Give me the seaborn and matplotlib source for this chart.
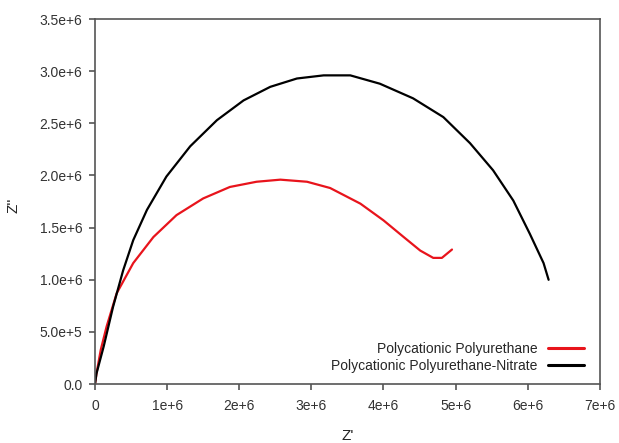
import matplotlib
matplotlib.use('Agg')
import matplotlib.pyplot as plt
import pandas as pd
import seaborn as sns

# Nyquist data (Z' and Z'' in ohm, in units of 1e6)
pu_zre = [0.0, 0.02, 0.08, 0.16, 0.30, 0.53, 0.81, 1.13, 1.50, 1.87, 2.24, 2.57,
          2.94, 3.26, 3.54, 3.68, 4.00, 4.28, 4.51, 4.69, 4.81, 4.88, 4.95]
pu_zim = [0.0, 0.10, 0.33, 0.55, 0.87, 1.16, 1.41, 1.62, 1.78, 1.89, 1.94, 1.96,
          1.94, 1.88, 1.78, 1.73, 1.57, 1.41, 1.28, 1.21, 1.21, 1.25, 1.29]

pun_zre = [0.0, 0.02, 0.12, 0.25, 0.39, 0.53, 0.72, 0.99, 1.32, 1.69, 2.06, 2.43,
           2.80, 3.17, 3.54, 3.95, 4.41, 4.83, 5.20, 5.52, 5.80, 6.03, 6.22, 6.29]
pun_zim = [0.0, 0.10, 0.36, 0.74, 1.09, 1.38, 1.67, 1.99, 2.28, 2.53, 2.72, 2.85,
           2.93, 2.96, 2.96, 2.88, 2.74, 2.56, 2.31, 2.05, 1.76, 1.44, 1.16, 1.00]

labels = ['Polycationic Polyurethane', 'Polycationic Polyurethane-Nitrate']
colors = ['#e8141c', '#000000']

df = pd.concat([
    pd.DataFrame({'zre': pu_zre, 'zim': pu_zim, 'sample': labels[0]}),
    pd.DataFrame({'zre': pun_zre, 'zim': pun_zim, 'sample': labels[1]}),
])
df['zre'] = df['zre'] * 1e6
df['zim'] = df['zim'] * 1e6

sns.set_style('ticks')
plt.rcParams['font.family'] = ['Liberation Sans', 'DejaVu Sans']

fig = plt.figure(figsize=(6.19, 4.43), dpi=100)
ax = fig.add_axes([0.1535, 0.133, 0.8155, 0.824])

sns.lineplot(data=df, x='zre', y='zim', hue='sample', palette=colors,
             sort=False, estimator=None, linewidth=1.6, ax=ax)

ax.set_xlim(0, 7e6)
ax.set_ylim(0, 3.5e6)
ax.set_xticks([i * 1e6 for i in range(8)])
ax.set_xticklabels(['0'] + ['%de+6' % i for i in range(1, 8)])
ax.set_yticks([i * 0.5e6 for i in range(8)])
ax.set_yticklabels(['0.0', '5.0e+5', '1.0e+6', '1.5e+6', '2.0e+6', '2.5e+6',
                    '3.0e+6', '3.5e+6'])

for s in ax.spines.values():
    s.set_visible(True)
    s.set_color('#555555')
    s.set_linewidth(1.2)
ax.tick_params(direction='out', length=4, width=1.2, color='#555555',
               labelsize=10, labelcolor='#333333')
ax.tick_params(axis='x', pad=7)
ax.tick_params(axis='y', pad=5)

ax.set_xlabel("Z'", fontsize=11, color='#222222')
ax.set_ylabel("Z''", fontsize=11, color='#222222')
ax.xaxis.set_label_coords(0.5, -0.122)
ax.yaxis.set_label_coords(-0.148, 0.49)

leg = ax.legend(title=None, loc='lower right', frameon=False, markerfirst=False,
                fontsize=10, handlelength=2.6, borderaxespad=0.6,
                bbox_to_anchor=(0.997, -0.008), labelspacing=0.25)
for h in leg.get_lines():
    h.set_linewidth(2.2)

fig.savefig('out.png', dpi=100)
